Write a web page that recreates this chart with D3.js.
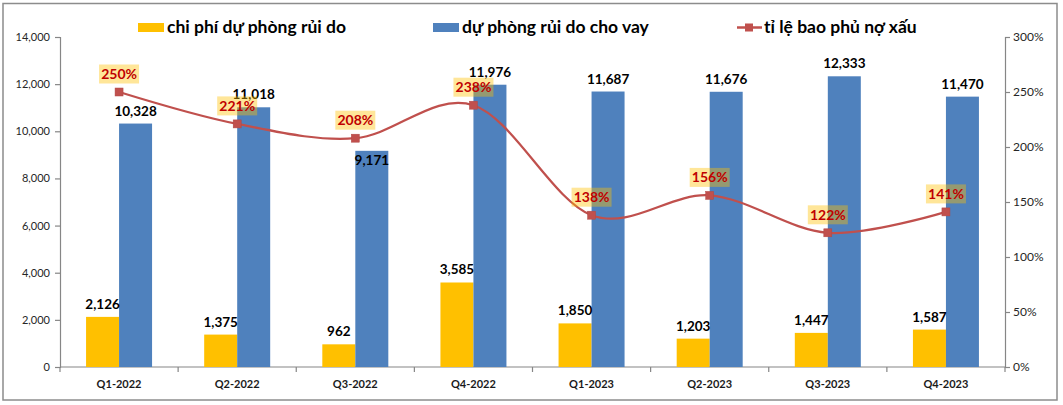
<!DOCTYPE html>
<html>
<head>
<meta charset="utf-8">
<script src="https://cdn.jsdelivr.net/npm/d3@7"></script>
<style>
  html, body { margin: 0; padding: 0; background: #fff; }
  svg { display: block; }
  text { font-family: Lato, "Liberation Sans", sans-serif; }
</style>
</head>
<body>
<svg id="chart" width="1063" height="405"></svg>
<script>
const categories = ["Q1-2022","Q2-2022","Q3-2022","Q4-2022","Q1-2023","Q2-2023","Q3-2023","Q4-2023"];
const seriesNames = ["chi phí dự phòng rủi do", "dự phòng rủi do cho vay", "tỉ lệ bao phủ nợ xấu"];
const provisionExpense = [2126, 1375, 962, 3585, 1850, 1203, 1447, 1587];
const loanProvision = [10328, 11018, 9171, 11976, 11687, 11676, 12333, 11470];
const coverageRatio = [2.50, 2.21, 2.08, 2.38, 1.38, 1.56, 1.22, 1.41];
const leftTicks = [0, 2000, 4000, 6000, 8000, 10000, 12000, 14000];
const rightTicks = [0, 0.5, 1, 1.5, 2, 2.5, 3];

const colors = { yellow: "#FFC000", blue: "#4F81BD", red: "#C0504D", axis: "#868686", labelRed: "#C00000" };

const svg = d3.select("#chart");
const plot = { left: 60, right: 1005, top: 37, bottom: 367 };

// outer border
svg.append("rect").attr("x", 3).attr("y", 3.5).attr("width", 1054).attr("height", 396.5)
  .attr("fill", "#fff").attr("stroke", "#8c8c8c").attr("stroke-width", 1.5);

const x = d3.scaleBand().domain(categories).range([plot.left, plot.right]).paddingInner(0).paddingOuter(0);
const barW = 33;
const xSub = d3.scaleBand().domain(["exp", "prov"])
  .range([x.bandwidth() / 2 - barW, x.bandwidth() / 2 + barW]).padding(0);
const yL = d3.scaleLinear().domain([0, 14000]).range([plot.bottom, plot.top]);
const yR = d3.scaleLinear().domain([0, 3]).range([plot.bottom, plot.top]);

// axes
const leftAxis = d3.axisLeft(yL).tickValues(leftTicks).tickFormat(d3.format(",")).tickSizeOuter(0).tickSize(5).tickPadding(5);
const gL = svg.append("g").attr("transform", `translate(${plot.left},0)`).call(leftAxis);
const rightAxis = d3.axisRight(yR).tickValues(rightTicks).tickFormat(d3.format(".0%")).tickSizeOuter(0).tickSize(5).tickPadding(3);
const gR = svg.append("g").attr("transform", `translate(${plot.right},0)`).call(rightAxis);
[gL, gR].forEach(g => {
  g.select(".domain").attr("stroke", colors.axis).attr("stroke-width", 1.2);
  g.selectAll(".tick line").attr("stroke", colors.axis).attr("stroke-width", 1.2);
  g.selectAll(".tick text").attr("fill", "#262626").attr("font-size", 11).attr("font-family", "Lato, sans-serif");
});
gR.selectAll(".tick text").attr("font-size", 12);

// x axis
const gX = svg.append("g").attr("transform", `translate(0,${plot.bottom})`);
gX.append("line").attr("x1", plot.left).attr("x2", plot.right).attr("y1", 0).attr("y2", 0)
  .attr("stroke", colors.axis).attr("stroke-width", 1.2);
const boundaries = categories.map(c => x(c)).concat([x(categories[categories.length - 1]) + x.bandwidth()]);
gX.selectAll("line.tk").data(boundaries).join("line").attr("class", "tk")
  .attr("x1", d => d).attr("x2", d => d).attr("y1", 0).attr("y2", 5)
  .attr("stroke", colors.axis).attr("stroke-width", 1.2);
gX.selectAll("text").data(categories).join("text")
  .attr("x", d => x(d) + x.bandwidth() / 2).attr("y", 21)
  .attr("text-anchor", "middle").attr("font-size", 11).attr("font-weight", "bold").attr("fill", "#1a1a1a")
  .text(d => d);

// bars
const gBars = svg.append("g");
gBars.selectAll("rect.exp").data(categories).join("rect").attr("class", "exp")
  .attr("x", (d, i) => x(d) + xSub("exp")).attr("width", xSub.bandwidth())
  .attr("y", (d, i) => yL(provisionExpense[i])).attr("height", (d, i) => yL(0) - yL(provisionExpense[i]))
  .attr("fill", colors.yellow);
gBars.selectAll("rect.prov").data(categories).join("rect").attr("class", "prov")
  .attr("x", (d, i) => x(d) + xSub("prov")).attr("width", xSub.bandwidth())
  .attr("y", (d, i) => yL(loanProvision[i])).attr("height", (d, i) => yL(0) - yL(loanProvision[i]))
  .attr("fill", colors.blue);

// line
const cx = d => x(d) + x.bandwidth() / 2;
const line = d3.line().x((d, i) => cx(categories[i])).y(d => yR(d)).curve(d3.curveCardinal.tension(0));
svg.append("path").datum(coverageRatio).attr("d", line)
  .attr("fill", "none").attr("stroke", colors.red).attr("stroke-width", 2.25);
svg.append("g").selectAll("rect").data(coverageRatio).join("rect")
  .attr("x", (d, i) => cx(categories[i]) - 4).attr("y", d => yR(d) - 4)
  .attr("width", 8).attr("height", 8).attr("fill", colors.red).attr("stroke", "#B24845").attr("stroke-width", 0.5);

// bar labels (the Q3-2022 provision label sits just under the bar top, as in the source)
const fmt = d3.format(",");
const provOffset = [-8, -8, 14, -8, -8, -8, -8, -8];
svg.append("g").selectAll("text").data(categories).join("text")
  .attr("x", (d, i) => x(d) + xSub("exp") + xSub.bandwidth() / 2)
  .attr("y", (d, i) => yL(provisionExpense[i]) - 8)
  .attr("text-anchor", "middle").attr("font-size", 13.5).attr("font-weight", "bold").attr("fill", "#000")
  .text((d, i) => fmt(provisionExpense[i]));
svg.append("g").selectAll("text").data(categories).join("text")
  .attr("x", (d, i) => x(d) + xSub("prov") + xSub.bandwidth() / 2)
  .attr("y", (d, i) => yL(loanProvision[i]) + provOffset[i])
  .attr("text-anchor", "middle").attr("font-size", 13.5).attr("font-weight", "bold").attr("fill", "#000")
  .text((d, i) => fmt(loanProvision[i]));

// line labels with translucent boxes
const pctFmt = d3.format(".0%");
const gPL = svg.append("g");
coverageRatio.forEach((v, i) => {
  const px = cx(categories[i]), py = yR(v) - 18;
  gPL.append("rect").attr("x", px - 20).attr("y", py - 9.5).attr("width", 40).attr("height", 19)
    .attr("fill", "rgba(255,192,0,0.4)");
  gPL.append("text").attr("x", px).attr("y", py + 5).attr("text-anchor", "middle")
    .attr("font-size", 14).attr("font-weight", "bold").attr("fill", colors.labelRed)
    .text(pctFmt(v));
});

// legend
const gLeg = svg.append("g");
gLeg.append("rect").attr("x", 138).attr("y", 23).attr("width", 26).attr("height", 9).attr("fill", colors.yellow);
gLeg.append("text").attr("x", 167).attr("y", 33).attr("font-size", 17.5).attr("font-weight", "bold").attr("fill", "#000").text(seriesNames[0]);
gLeg.append("rect").attr("x", 433).attr("y", 23).attr("width", 26).attr("height", 9).attr("fill", colors.blue);
gLeg.append("text").attr("x", 462).attr("y", 33).attr("font-size", 17.5).attr("font-weight", "bold").attr("fill", "#000").text(seriesNames[1]);
gLeg.append("line").attr("x1", 737).attr("x2", 762).attr("y1", 27.5).attr("y2", 27.5).attr("stroke", colors.red).attr("stroke-width", 2.5);
gLeg.append("rect").attr("x", 745).attr("y", 23.5).attr("width", 8).attr("height", 8).attr("fill", colors.red);
gLeg.append("text").attr("x", 764).attr("y", 33).attr("font-size", 17.5).attr("font-weight", "bold").attr("fill", "#000").text(seriesNames[2]);
</script>
</body>
</html>
